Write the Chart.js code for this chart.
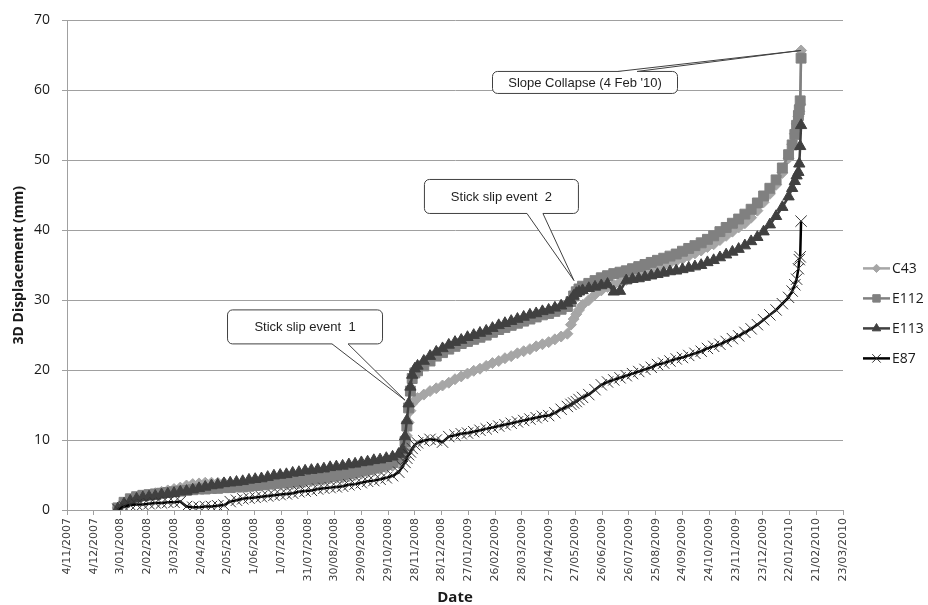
<!DOCTYPE html>
<html>
<head>
<meta charset="utf-8">
<title>3D Displacement</title>
<script src="https://cdn.jsdelivr.net/npm/chart.js"></script>
<style>
  html, body { margin: 0; padding: 0; background: #ffffff; }
  canvas { display: block; }
</style>
</head>
<body>
<canvas id="chart" width="928" height="605"></canvas>
<script>
// Survey days, counted from 4 Nov 2007 (the first axis tick)
const days = [
  57, 64, 71, 78, 85, 92, 99, 106, 113, 120, 127, 134, 141, 148, 155, 162, 169, 176, 183, 190,
  197, 204, 211, 218, 225, 232, 239, 246, 253, 260, 267, 274, 281, 288, 295, 302, 309, 316, 323, 330,
  337, 344, 351, 358, 365, 372,
  376, 379, 381, 383, 385, 387, 390,
  393, 400, 407, 414, 421, 428, 435, 442, 449, 456, 463, 470, 477, 484, 491, 498, 505, 512, 519, 526,
  533, 540, 547, 554, 561,
  565, 568, 571, 574,
  578, 585, 592, 599, 606, 613, 620, 627, 634, 641, 648, 655, 662, 669, 676, 683, 690, 697, 704, 711,
  718, 725, 732, 739, 746, 753, 760, 767, 774, 781, 788, 795, 802, 809,
  813, 816, 818, 820, 821, 822, 823
];

// 3D displacement (mm) per prism
const c43 = [
  0.3, 1.0, 1.5, 1.8, 2.0, 2.2, 2.4, 2.6, 2.8, 3.0, 3.2, 3.5, 3.7, 3.8, 3.9, 3.9, 3.9, 3.9, 3.8, 3.7,
  3.6, 3.5, 3.5, 3.5, 3.5, 3.5, 3.6, 3.6, 3.7, 3.8, 4.0, 4.1, 4.2, 4.3, 4.5, 4.6, 4.6, 4.8, 5.0, 5.2,
  5.4, 5.6, 5.8, 6.0, 6.3, 6.7,
  7.2, 8.8, 10.6, 12.5, 14.2, 15.2, 15.7,
  16.0, 16.5, 17.0, 17.4, 17.8, 18.2, 18.7, 19.1, 19.5, 19.9, 20.2, 20.6, 21.0, 21.3, 21.7, 22.0, 22.4, 22.7, 23.0, 23.4,
  23.7, 24.0, 24.4, 24.8, 25.2,
  26.5, 27.3, 28.0, 28.6,
  29.3, 30.0, 30.8, 31.4, 31.9, 32.2, 32.6, 32.9, 33.2, 33.5, 33.9, 34.2, 34.5, 34.9, 35.3, 35.6, 35.9, 36.3, 36.7, 37.1,
  37.6, 38.0, 38.6, 39.2, 39.8, 40.4, 41.0, 41.8, 42.8, 44.0, 45.2, 46.5, 48.2, 50.3,
  52.3, 53.8, 55.2, 56.3, 57.0, 58.0, 65.7
];
const e112 = [
  0.3, 1.1, 1.6, 1.9, 2.1, 2.2, 2.3, 2.4, 2.5, 2.6, 2.7, 2.8, 2.9, 3.0, 3.0, 3.1, 3.1, 3.2, 3.2, 3.3,
  3.3, 3.4, 3.5, 3.6, 3.7, 3.8, 3.9, 3.9, 4.0, 4.1, 4.3, 4.4, 4.5, 4.6, 4.8, 4.9, 5.0, 5.2, 5.4, 5.6,
  5.8, 6.0, 6.2, 6.5, 6.8, 7.3,
  8.0, 9.8, 12.0, 14.6, 17.0, 18.8, 19.6,
  19.9, 20.6, 21.3, 22.0, 22.5, 23.0, 23.4, 23.8, 24.1, 24.4, 24.7, 25.0, 25.4, 25.8, 26.1, 26.4, 26.7, 27.0, 27.3, 27.6,
  27.9, 28.1, 28.4, 28.7, 29.1,
  29.8, 30.6, 31.2, 31.6,
  32.0, 32.4, 32.8, 33.2, 33.5, 33.8, 34.0, 34.2, 34.5, 34.8, 35.1, 35.4, 35.7, 36.0, 36.3, 36.6, 37.0, 37.4, 37.8, 38.2,
  38.7, 39.2, 39.8, 40.4, 41.0, 41.6, 42.3, 43.0, 43.9, 44.9, 46.0, 47.2, 48.9, 50.8,
  52.2, 53.7, 55.0, 56.4, 57.2, 58.5, 64.6
];
const e113 = [
  0.2, 0.9, 1.3, 1.6, 1.8, 1.9, 2.0, 2.2, 2.3, 2.4, 2.6, 2.7, 2.9, 3.1, 3.3, 3.5, 3.6, 3.8, 3.9, 4.0,
  4.1, 4.3, 4.4, 4.5, 4.7, 4.9, 5.0, 5.1, 5.3, 5.4, 5.6, 5.7, 5.8, 5.9, 6.1, 6.2, 6.3, 6.5, 6.6, 6.8,
  6.9, 7.1, 7.2, 7.4, 7.6, 8.0,
  8.6, 10.5, 12.8, 15.2, 17.6, 19.3, 20.2,
  20.6, 21.3, 22.0, 22.6, 23.1, 23.6, 24.0, 24.3, 24.7, 25.0, 25.3, 25.6, 26.0, 26.4, 26.7, 27.0, 27.3, 27.6, 27.9, 28.1,
  28.4, 28.6, 28.9, 29.2, 29.6,
  30.0, 30.6, 31.0, 31.2,
  31.4, 31.7, 31.9, 32.1, 32.3, 31.2, 31.3, 32.8, 33.0, 33.1, 33.3, 33.5, 33.7, 33.9, 34.1, 34.2, 34.4, 34.6, 34.8, 35.0,
  35.4, 35.7, 36.1, 36.5, 36.9, 37.3, 37.8, 38.4, 39.0, 39.8, 40.8, 42.0, 43.3, 44.8,
  46.0, 47.0, 47.8, 48.3, 49.5, 52.0, 55.0
];
const e87 = [
  0.1, 0.5, 0.7, 0.8, 0.8, 0.9, 1.0, 1.0, 1.1, 1.1, 1.2, 0.5, 0.4, 0.4, 0.5, 0.5, 0.6, 0.7, 1.2, 1.4,
  1.6, 1.7, 1.8, 1.9, 2.0, 2.1, 2.2, 2.3, 2.4, 2.6, 2.7, 2.8, 3.0, 3.1, 3.2, 3.3, 3.4, 3.6, 3.7, 3.9,
  4.1, 4.2, 4.4, 4.6, 4.9, 5.4,
  6.2, 6.8, 7.4, 7.9, 8.3, 8.8, 9.3,
  9.6, 9.9, 10.1, 10.0, 9.7, 10.5, 10.7, 10.9, 11.0, 11.2, 11.4, 11.6, 11.8, 12.0, 12.2, 12.4, 12.6, 12.8, 13.0, 13.2,
  13.4, 13.5, 13.9, 14.4, 14.8,
  15.1, 15.3, 15.5, 15.8,
  16.1, 16.5, 17.2, 17.9, 18.3, 18.6, 18.9, 19.2, 19.5, 19.8, 20.1, 20.4, 20.8, 21.0, 21.3, 21.6, 21.8, 22.1, 22.4, 22.7,
  23.1, 23.4, 23.7, 24.1, 24.5, 24.9, 25.4, 25.9, 26.5, 27.2, 27.9, 28.6, 29.5, 30.4,
  31.3, 32.2, 33.0, 34.5, 35.8, 36.2, 41.3
];

const seriesNames = ['C43', 'E112', 'E113', 'E87'];

// Date labels every 30 days along the x axis
const tickLabels = [
  '4/11/2007', '4/12/2007', '3/01/2008', '2/02/2008', '3/03/2008', '2/04/2008', '2/05/2008', '1/06/2008',
  '1/07/2008', '31/07/2008', '30/08/2008', '29/09/2008', '29/10/2008', '28/11/2008', '28/12/2008',
  '27/01/2009', '26/02/2009', '28/03/2009', '27/04/2009', '27/05/2009', '26/06/2009', '26/07/2009',
  '25/08/2009', '24/09/2009', '24/10/2009', '23/11/2009', '23/12/2009', '22/01/2010', '21/02/2010',
  '23/03/2010'
];
const TICK_STEP = 30;

// Event callouts: box centre and pointer tip in axis units (day, mm)
const callouts = [
  { text: 'Stick slip event  1', at: [266.3, 26.25], size: [155, 34], tip: [379, 15.7], side: 'bottom', base: [27.5, 43.5] },
  { text: 'Stick slip event  2', at: [486.5, 44.9], size: [154, 34], tip: [568.4, 32.8], side: 'bottom', base: [26, 42] },
  { text: "Slope Collapse (4 Feb '10)", at: [580.2, 61.2], size: [185, 22],
    tip: [days[days.length - 1], c43[c43.length - 1]], side: 'top', base: [33.5, 52.5] }
];

const toPoints = vals => days.map((d, i) => ({ x: d, y: vals[i] }));

const styles = [
  { color: '#a6a6a6', pointStyle: 'rectRot', radius: 5.5, pointBorder: '#a6a6a6', order: 4 },
  { color: '#808080', pointStyle: 'rect', radius: 7, pointBorder: '#808080', order: 3 },
  { color: '#404040', pointStyle: 'triangle', radius: 6.5, pointBorder: '#404040', order: 2 },
  { color: '#000000', pointStyle: 'crossRot', radius: 8, pointBorder: '#333333', order: 1 }
];
const values = [c43, e112, e113, e87];

const datasets = seriesNames.map((name, i) => ({
  label: name,
  data: toPoints(values[i]),
  borderColor: styles[i].color,
  backgroundColor: styles[i].color,
  borderWidth: 2.5,
  pointStyle: styles[i].pointStyle,
  pointRadius: styles[i].radius,
  pointBackgroundColor: styles[i].color,
  pointBorderColor: styles[i].pointBorder,
  pointBorderWidth: 1,
  tension: 0,
  order: styles[i].order
}));

// Callout boxes with a wedge pointer
const calloutPlugin = {
  id: 'callouts',
  afterDatasetsDraw(chart) {
    const { ctx, scales: { x, y } } = chart;
    ctx.save();
    callouts.forEach(c => {
      const tx = x.getPixelForValue(c.tip[0]);
      const ty = y.getPixelForValue(c.tip[1]);
      const cx = x.getPixelForValue(c.at[0]);
      const cy = y.getPixelForValue(c.at[1]);
      const w = c.size[0], h = c.size[1];
      const left = cx - w / 2, top = cy - h / 2;
      const edge = c.side === 'top' ? top : top + h;
      const inner = c.side === 'top' ? edge + 1.5 : edge - 1.5;
      const b0 = cx + c.base[0], b1 = cx + c.base[1];

      ctx.lineWidth = 1;
      ctx.strokeStyle = '#404040';
      ctx.fillStyle = '#ffffff';
      ctx.beginPath();
      ctx.roundRect(left + 0.5, top + 0.5, w, h, 5);
      ctx.fill();
      ctx.stroke();

      ctx.beginPath();
      ctx.moveTo(b0, inner);
      ctx.lineTo(b0, edge + 0.5);
      ctx.lineTo(tx, ty);
      ctx.lineTo(b1, edge + 0.5);
      ctx.lineTo(b1, inner);
      ctx.closePath();
      ctx.fill();

      ctx.beginPath();
      ctx.moveTo(b0, edge + 0.5);
      ctx.lineTo(tx, ty);
      ctx.lineTo(b1, edge + 0.5);
      ctx.stroke();

      ctx.fillStyle = '#1f1f1f';
      ctx.font = '13px "Liberation Sans", Arial, sans-serif';
      ctx.textAlign = 'center';
      ctx.textBaseline = 'middle';
      ctx.fillText(c.text, cx + 0.5, cy + 1);
    });
    ctx.restore();
  }
};

// Legend on the right: line segment with the series marker
const sideLegend = {
  id: 'sideLegend',
  afterDraw(chart) {
    const { ctx, chartArea } = chart;
    const drawPoint = Chart.helpers && Chart.helpers.drawPoint;
    const x0 = chartArea.right + 20;
    ctx.save();
    chart.data.datasets.forEach((ds, i) => {
      const yy = chartArea.top + 248 + i * 30;
      ctx.strokeStyle = ds.borderColor;
      ctx.lineWidth = ds.borderWidth;
      ctx.beginPath();
      ctx.moveTo(x0, yy);
      ctx.lineTo(x0 + 27, yy);
      ctx.stroke();
      if (drawPoint) {
        ctx.fillStyle = ds.pointBackgroundColor;
        ctx.strokeStyle = ds.pointBorderColor;
        ctx.lineWidth = ds.pointBorderWidth;
        drawPoint(ctx, { pointStyle: ds.pointStyle, radius: ds.pointRadius * 0.75, borderWidth: ds.pointBorderWidth, rotation: 0 }, x0 + 13.5, yy);
      }
      ctx.fillStyle = '#1a1a1a';
      ctx.font = '14px "Open Sans", sans-serif';
      ctx.textAlign = 'left';
      ctx.textBaseline = 'middle';
      ctx.fillText(ds.label, x0 + 29, yy + 1);
    });
    ctx.restore();
  }
};

new Chart(document.getElementById('chart'), {
  type: 'line',
  data: { datasets },
  options: {
    responsive: false,
    devicePixelRatio: 1,
    animation: false,
    events: [],
    layout: { padding: { left: 7, right: 85, top: 19, bottom: 0 } },
    plugins: {
      legend: { display: false },
      tooltip: { enabled: false }
    },
    scales: {
      x: {
        type: 'linear',
        min: 0,
        max: 870,
        afterFit(scale) { scale.height = 95; },
        border: { color: '#a0a0a0', width: 1 },
        grid: { drawOnChartArea: false, drawTicks: true, tickLength: 5, color: '#a0a0a0' },
        ticks: {
          stepSize: TICK_STEP,
          autoSkip: false,
          maxRotation: 90,
          minRotation: 90,
          padding: 3,
          color: '#404040',
          font: { family: '"DejaVu Sans", sans-serif', size: 11 },
          callback: v => tickLabels[Math.round(v / TICK_STEP)]
        },
        title: {
          display: true,
          text: 'Date',
          color: '#1a1a1a',
          padding: { top: 0, bottom: 0 },
          font: { family: '"Open Sans", sans-serif', size: 15, weight: 'bold', lineHeight: 1 }
        }
      },
      y: {
        min: 0,
        max: 70,
        afterFit(scale) { scale.width = 60; },
        border: { color: '#a0a0a0', width: 1 },
        grid: { color: '#a0a0a0', lineWidth: 1, drawTicks: true, tickLength: 5 },
        ticks: {
          stepSize: 10,
          padding: 12,
          color: '#1a1a1a',
          font: { family: '"Open Sans", sans-serif', size: 14 }
        },
        title: {
          display: true,
          text: '3D Displacement (mm)',
          color: '#1a1a1a',
          padding: { top: 4, bottom: 0 },
          font: { family: '"Open Sans", sans-serif', size: 14, weight: 'bold' }
        }
      }
    }
  },
  plugins: [calloutPlugin, sideLegend]
});
</script>
</body>
</html>
